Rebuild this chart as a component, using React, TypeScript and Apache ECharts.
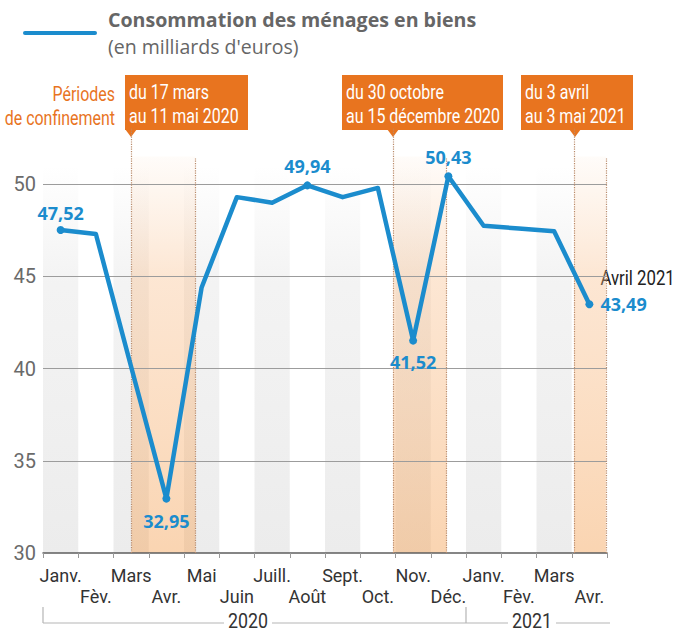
import React, { useEffect, useRef } from 'react';
import * as echarts from 'echarts';

// ---- data ----
const months = ['Janv.', 'Fèv.', 'Mars', 'Avr.', 'Mai', 'Juin', 'Juill.', 'Août', 'Sept.', 'Oct.', 'Nov.', 'Déc.', 'Janv.', 'Fèv.', 'Mars', 'Avr.'];
const consumption = [47.52, 47.3, 40.1, 32.95, 44.4, 49.3, 49.0, 49.94, 49.3, 49.8, 41.52, 50.43, 47.75, 47.6, 47.45, 43.49];
const labelledPoints = [0, 3, 7, 10, 11, 15];
const yTickValues = [30, 35, 40, 45, 50];
// lockdown periods: [monthIndex, day, daysInMonth] for start and end
const lockdownStarts = [[2, 17, 31], [9, 30, 31], [15, 3, 30]];
const lockdownEnds = [[4, 11, 31], [11, 15, 31], [16, 0, 31]];
const lockdownTexts = [
  ['du 17 mars', 'au 11 mai 2020'],
  ['du 30 octobre', 'au 15 décembre 2020'],
  ['du 3 avril', 'au 3 mai 2021'],
];
const years = ['2020', '2021'];
const lastPointCaption = 'Avril 2021';

const BLUE = '#1b8ccd';
const ORANGE = '#e8741f';
const COND = "Roboto, 'Noto Sans', sans-serif";
const SANS = "'Open Sans', 'Noto Sans', sans-serif";
const SQUEEZE = 0.76;

const fmt = (v: number) => v.toFixed(2).replace('.', ',');
const toPos = (d: number[]) => d[0] + (d[1] - 1) / d[2];

export default function App() {
  const ref = useRef<HTMLDivElement>(null);

  useEffect(() => {
    document.body.style.margin = '0';
    if (!ref.current) return;
    const chart = echarts.init(ref.current, null, { renderer: 'svg' });

    const Y_MAX = 53.05;
    const labelConf: Record<number, any> = {
      0: { position: 'top', distance: 4 },
      3: { position: 'bottom', distance: 9 },
      7: { position: 'top', distance: 6 },
      10: { position: 'bottom', distance: 8 },
      11: { position: 'top', distance: 6 },
      15: { position: 'right', distance: 7 },
    };

    const mainData = consumption.map((v, i) => {
      if (labelledPoints.indexOf(i) < 0) return { value: v, symbolSize: 0, label: { show: false } };
      return {
        value: v,
        symbolSize: 8,
        label: Object.assign({ show: true }, labelConf[i]),
      };
    });

    const greyStyle = {
      color: new echarts.graphic.LinearGradient(0, 0, 0, 1, [
        { offset: 0, color: 'rgba(238,238,238,0)' },
        { offset: 0.3, color: 'rgba(238,238,238,0.7)' },
        { offset: 1, color: 'rgba(236,236,236,1)' },
      ]),
    };
    const orangeStyle = {
      color: new echarts.graphic.LinearGradient(0, 0, 0, 1, [
        { offset: 0, color: 'rgba(248,190,140,0.05)' },
        { offset: 0.3, color: 'rgba(248,185,130,0.35)' },
        { offset: 1, color: 'rgba(245,170,100,0.5)' },
      ]),
    };

    const greyAreas: any[] = [];
    for (let i = 0; i < months.length; i += 2) {
      greyAreas.push([{ xAxis: i, yAxis: 30, itemStyle: greyStyle }, { xAxis: i + 1, yAxis: 51.0 }]);
    }
    const orangeAreas = lockdownStarts.map((s, k) => [
      { xAxis: toPos(s), yAxis: 30, itemStyle: orangeStyle },
      { xAxis: toPos(lockdownEnds[k]), yAxis: 51.5 },
    ]);

    const dotted = { type: 'dotted', color: '#b98a6a', width: 1.2 };
    const vLines: any[] = [];
    lockdownStarts.forEach((s, k) => {
      vLines.push([{ coord: [toPos(s), 30], lineStyle: dotted }, { coord: [toPos(s), Y_MAX] }]);
      vLines.push([{ coord: [toPos(lockdownEnds[k]), 30], lineStyle: dotted }, { coord: [toPos(lockdownEnds[k]), 51.4] }]);
    });
    const hLines = yTickValues.slice(1).map((v) => ({ yAxis: v, lineStyle: { type: 'solid', color: '#9c9c9c', width: 1.2 } }));

    const boxes = [
      { x: 125, w: 123, tip: 131 },
      { x: 342, w: 161, tip: 393 },
      { x: 521, w: 112, tip: 575 },
    ];
    const boxText = (x: number, y: number, text: string, fill: string, align = 'left', size = 21, sx = SQUEEZE) => ({
      type: 'text', x, y, scaleX: sx,
      style: { text, fill, font: size + 'px ' + COND, align, verticalAlign: 'middle' },
    });
    const boxGraphics: any[] = [];
    boxes.forEach((b, k) => {
      boxGraphics.push({ type: 'rect', shape: { x: b.x, y: 75, width: b.w, height: 55 }, style: { fill: ORANGE } });
      boxGraphics.push({ type: 'polygon', shape: { points: [[b.tip - 6, 129], [b.tip + 6, 129], [b.tip, 137]] }, style: { fill: ORANGE } });
      boxGraphics.push(boxText(b.x + 4, 92, lockdownTexts[k][0], '#fff'));
      boxGraphics.push(boxText(b.x + 4, 116, lockdownTexts[k][1], '#fff'));
    });

    const axisGrey = '#b5b5b5';
    const yearGraphics: any[] = [
      { type: 'line', shape: { x1: 43, y1: 607, x2: 43, y2: 623 }, style: { stroke: axisGrey, lineWidth: 1.2 } },
      { type: 'line', shape: { x1: 43, y1: 623, x2: 224, y2: 623 }, style: { stroke: axisGrey, lineWidth: 1.2 } },
      { type: 'line', shape: { x1: 272, y1: 623, x2: 466, y2: 623 }, style: { stroke: axisGrey, lineWidth: 1.2 } },
      { type: 'line', shape: { x1: 466, y1: 607, x2: 466, y2: 623 }, style: { stroke: axisGrey, lineWidth: 1.2 } },
      { type: 'line', shape: { x1: 466, y1: 623, x2: 508, y2: 623 }, style: { stroke: axisGrey, lineWidth: 1.2 } },
      { type: 'line', shape: { x1: 556, y1: 623, x2: 610, y2: 623 }, style: { stroke: axisGrey, lineWidth: 1.2 } },
      boxText(248, 621, years[0], '#333', 'center', 21, 0.85),
      boxText(532, 621, years[1], '#333', 'center', 21, 0.85),
    ];

    const baseGraphics: any[] = [
      { type: 'line', shape: { x1: 25, y1: 33, x2: 95, y2: 33 }, style: { stroke: BLUE, lineWidth: 4, lineCap: 'round' } },
      { type: 'text', x: 108, y: 19, style: { text: 'Consommation des ménages en biens', fill: '#666', font: 'bold 19.6px ' + SANS, verticalAlign: 'middle' } },
      { type: 'text', x: 108, y: 46, style: { text: "(en milliards d'euros)", fill: '#666', font: '19.5px ' + SANS, verticalAlign: 'middle' } },
      boxText(115, 94, 'Périodes', ORANGE, 'right'),
      boxText(115, 118, 'de confinement', ORANGE, 'right'),
      ...boxGraphics,
      ...yearGraphics,
    ];

    const option: any = {
      animation: false,
      backgroundColor: '#fff',
      grid: { left: 43, right: 72, top: 128, bottom: 79, containLabel: false },
      xAxis: [
        {
          type: 'category',
          data: months,
          boundaryGap: true,
          axisLine: { show: true, lineStyle: { color: '#5e5e5e', width: 1.5 } },
          axisTick: { show: true, length: 5, lineStyle: { color: '#999' } },
          axisLabel: {
            interval: 0,
            hideOverlap: false,
            margin: 12,
            color: '#333',
            fontFamily: COND,
            fontSize: 18,
            lineHeight: 21,
            formatter: (v: string, i: number) => (i % 2 ? '\n' + v : v),
          },
          splitLine: { show: false },
          z: 4,
        },
        { type: 'value', min: 0, max: months.length, show: false },
      ],
      yAxis: {
        type: 'value',
        min: 30,
        max: Y_MAX,
        interval: 5,
        axisLine: { show: false },
        axisTick: { show: false },
        splitLine: { show: false },
        axisLabel: {
          margin: 7,
          color: '#6a6a6a',
          fontFamily: COND,
          fontSize: 20,
          formatter: (v: number) => (yTickValues.indexOf(v) >= 0 ? String(v) : ''),
        },
      },
      graphic: baseGraphics,
      series: [
        {
          type: 'line',
          xAxisIndex: 1,
          yAxisIndex: 0,
          data: [[0, 30]],
          symbol: 'none',
          lineStyle: { width: 0 },
          silent: true,
          z: 1,
          markArea: { silent: true, data: [...greyAreas, ...orangeAreas] },
          markLine: {
            silent: true,
            symbol: ['none', 'none'],
            label: { show: false },
            data: [...hLines, ...vLines],
          },
        },
        {
          type: 'line',
          xAxisIndex: 0,
          yAxisIndex: 0,
          data: mainData,
          clip: false,
          symbol: 'circle',
          symbolSize: 0,
          showAllSymbol: true,
          itemStyle: { color: BLUE },
          lineStyle: { color: BLUE, width: 4.5, join: 'round' },
          label: {
            color: BLUE,
            fontFamily: SANS,
            fontWeight: 'bold',
            fontSize: 18,
            formatter: (p: any) => fmt(p.value),
          },
          z: 5,
        },
      ],
    };

    chart.setOption(option);

    // caption above the last point, anchored through the chart's own scales
    const last = consumption.length - 1;
    const pt = chart.convertToPixel({ xAxisIndex: 0, yAxisIndex: 0 }, [last, consumption[last]]) as number[];
    chart.setOption({
      graphic: [
        ...baseGraphics,
        boxText(pt[0] + 11, pt[1] - 26, lastPointCaption, '#222', 'left', 21, 0.8),
      ],
    });

    return () => chart.dispose();
  }, []);

  return <div ref={ref} style={{ width: 679, height: 632 }} />;
}
